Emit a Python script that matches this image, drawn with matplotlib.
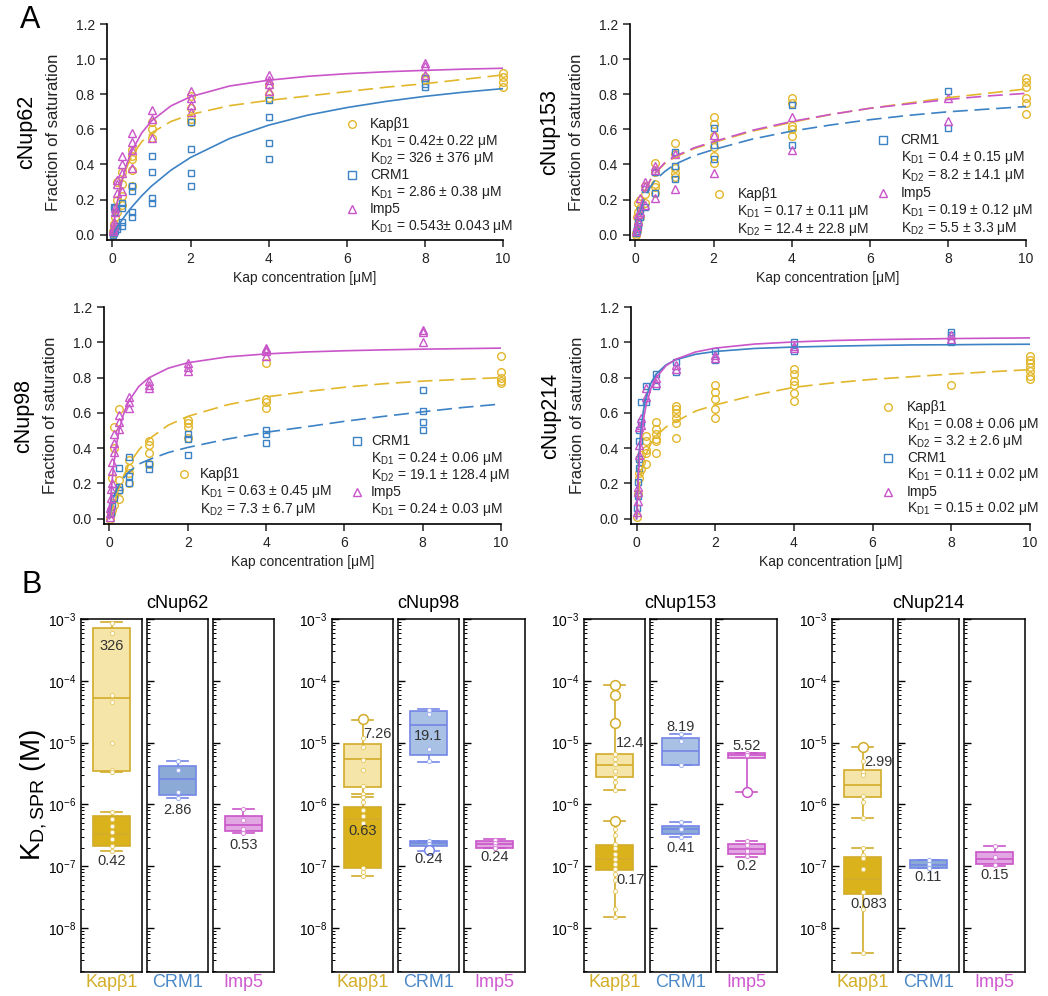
import numpy as np
import matplotlib
matplotlib.use('Agg')
import matplotlib.pyplot as plt
from matplotlib.ticker import LogLocator, NullFormatter, FixedLocator

plt.rcParams['font.family'] = ['Liberation Sans', 'DejaVu Sans']
plt.rcParams['mathtext.fontset'] = 'custom'
plt.rcParams['mathtext.rm'] = 'Liberation Sans'
plt.rcParams['mathtext.it'] = 'Liberation Sans:italic'
plt.rcParams['mathtext.bf'] = 'Liberation Sans:bold'

GOLD = '#E2B72C'
BLUE = '#3C82C4'
MAG = '#C955C9'
kap_names = ['Kapβ1', 'CRM1', 'Imp5']
kap_colors = [GOLD, BLUE, MAG]
kap_markers = ['o', 's', '^']

# ---------------- panel A: titration data {conc (uM): [fraction of saturation]}
nup62_kap = {0.01: [0.02, 0.01], 0.03: [0.06, 0.04], 0.06: [0.15, 0.10], 0.125: [0.30, 0.20, 0.13],
             0.25: [0.36, 0.29, 0.22, 0.17], 0.5: [0.48, 0.45, 0.43, 0.37, 0.28], 1: [0.64, 0.60, 0.55],
             2: [0.79, 0.72, 0.66, 0.64], 4: [0.85, 0.80, 0.78], 8: [0.90, 0.88], 10: [0.92, 0.90, 0.87, 0.84]}
nup62_crm = {0.01: [0.0, 0.01], 0.03: [0.16, 0.01], 0.06: [0.15, 0.13, 0.02], 0.125: [0.03, 0.05],
             0.25: [0.18, 0.15, 0.07, 0.05], 0.5: [0.28, 0.25, 0.13, 0.10], 1: [0.45, 0.36, 0.21, 0.18],
             2: [0.64, 0.49, 0.35, 0.28], 4: [0.77, 0.67, 0.52, 0.43], 8: [0.89, 0.86, 0.84]}
nup62_imp = {0.01: [0.03, 0.02], 0.03: [0.07, 0.05], 0.06: [0.15, 0.13], 0.125: [0.31, 0.29, 0.24],
             0.25: [0.45, 0.40, 0.35, 0.25], 0.5: [0.58, 0.53, 0.48, 0.38], 1: [0.71, 0.66, 0.55],
             2: [0.82, 0.78, 0.74, 0.70], 4: [0.91, 0.88, 0.86, 0.82], 8: [0.98, 0.96, 0.91]}

nup153_kap = {0.01: [0.01, 0.0], 0.03: [0.10, 0.02], 0.06: [0.18, 0.13, 0.06], 0.125: [0.20, 0.15, 0.10],
              0.25: [0.28, 0.23, 0.18], 0.5: [0.41, 0.36, 0.29, 0.27, 0.24], 1: [0.52, 0.46, 0.38, 0.35, 0.33],
              2: [0.67, 0.63, 0.56, 0.50, 0.45, 0.41], 4: [0.78, 0.75, 0.62, 0.60, 0.56],
              10: [0.89, 0.87, 0.84, 0.78, 0.75, 0.69]}
nup153_crm = {0.01: [0.01], 0.03: [0.03, 0.02], 0.06: [0.07, 0.05], 0.125: [0.14, 0.10], 0.25: [0.26, 0.16],
              0.5: [0.36, 0.24], 1: [0.47, 0.39, 0.32], 2: [0.61, 0.51, 0.43], 4: [0.74, 0.51], 8: [0.82, 0.61]}
nup153_imp = {0.01: [0.02], 0.03: [0.05], 0.06: [0.12, 0.08], 0.125: [0.21, 0.13], 0.25: [0.30, 0.28, 0.17],
              0.5: [0.39, 0.37, 0.21], 1: [0.46, 0.26], 2: [0.57, 0.35], 4: [0.67, 0.48], 8: [0.78, 0.65]}

nup98_kap = {0.01: [0.0], 0.03: [0.03], 0.06: [0.23, 0.05], 0.125: [0.52, 0.40, 0.13, 0.08],
             0.25: [0.62, 0.22, 0.16, 0.11], 0.5: [0.33, 0.29, 0.26, 0.20], 1: [0.44, 0.42, 0.37, 0.31],
             2: [0.56, 0.54, 0.52, 0.46], 4: [0.88, 0.68, 0.66, 0.63], 10: [0.92, 0.83, 0.80, 0.78, 0.77]}
nup98_crm = {0.03: [0.03], 0.06: [0.07], 0.125: [0.16, 0.12], 0.25: [0.29, 0.18, 0.16], 0.5: [0.35, 0.24, 0.20],
             1: [0.31, 0.28], 2: [0.48, 0.45, 0.36], 4: [0.50, 0.48, 0.43], 8: [0.73, 0.61, 0.55, 0.50]}
nup98_imp = {0.01: [0.06, 0.03, 0.01], 0.03: [0.17, 0.12, 0.08], 0.06: [0.32, 0.27, 0.20], 0.125: [0.48, 0.43, 0.38],
             0.25: [0.59, 0.55, 0.51], 0.5: [0.69, 0.66, 0.63], 1: [0.78, 0.76, 0.74], 2: [0.88, 0.86, 0.84],
             4: [0.97, 0.96, 0.95, 0.92], 8: [1.07, 1.06, 1.00]}

nup214_kap = {0.01: [0.01], 0.03: [0.14], 0.06: [0.26, 0.23], 0.125: [0.36, 0.32, 0.28],
              0.25: [0.47, 0.44, 0.39, 0.37, 0.31], 0.5: [0.55, 0.51, 0.48, 0.45, 0.44, 0.37],
              1: [0.64, 0.62, 0.60, 0.57, 0.54, 0.46], 2: [0.76, 0.72, 0.68, 0.62, 0.57],
              4: [0.85, 0.82, 0.78, 0.76, 0.71, 0.67], 8: [0.76], 10: [0.92, 0.90, 0.88, 0.86, 0.84, 0.81, 0.79]}
nup214_crm = {0.01: [0.06], 0.03: [0.21, 0.13], 0.06: [0.50, 0.44, 0.34, 0.29], 0.125: [0.66, 0.55],
              0.25: [0.75, 0.66], 0.5: [0.82, 0.75], 1: [0.89, 0.83], 2: [0.95, 0.90], 4: [1.00, 0.95],
              8: [1.06, 1.04, 1.00]}
nup214_imp = {0.01: [0.04], 0.03: [0.18, 0.15, 0.10], 0.06: [0.52, 0.42, 0.36], 0.125: [0.57, 0.53],
              0.25: [0.74, 0.69], 0.5: [0.80, 0.77], 1: [0.87, 0.85], 2: [0.93, 0.91], 4: [0.98, 0.97],
              8: [1.04, 1.02]}

# fitted curves at these concentrations
fit_x = [0, 0.05, 0.1, 0.175, 0.25, 0.375, 0.5, 0.75, 1, 1.5, 2, 3, 4, 5, 6, 7, 8, 9, 10]
nup62_fits = [
    [0, 0.09, 0.16, 0.25, 0.31, 0.39, 0.45, 0.53, 0.58, 0.645, 0.685, 0.735, 0.765, 0.79, 0.815, 0.84, 0.86, 0.885, 0.91],
    [0, 0.018, 0.036, 0.062, 0.086, 0.124, 0.159, 0.222, 0.277, 0.368, 0.44, 0.548, 0.624, 0.681, 0.724, 0.759, 0.788, 0.812, 0.832],
    [0, 0.084, 0.156, 0.244, 0.315, 0.408, 0.479, 0.58, 0.648, 0.734, 0.786, 0.847, 0.88, 0.902, 0.917, 0.928, 0.936, 0.943, 0.948]]
nup153_fits = [
    [0, 0.08, 0.14, 0.2, 0.25, 0.31, 0.35, 0.405, 0.44, 0.49, 0.525, 0.59, 0.64, 0.685, 0.72, 0.75, 0.78, 0.805, 0.83],
    [0, 0.07, 0.12, 0.18, 0.22, 0.27, 0.31, 0.36, 0.4, 0.45, 0.485, 0.545, 0.59, 0.625, 0.655, 0.68, 0.70, 0.715, 0.73],
    [0, 0.08, 0.14, 0.2, 0.25, 0.31, 0.35, 0.41, 0.445, 0.495, 0.53, 0.595, 0.645, 0.685, 0.72, 0.745, 0.77, 0.79, 0.805]]
nup98_fits = [
    [0, 0.04, 0.08, 0.13, 0.18, 0.25, 0.31, 0.39, 0.45, 0.53, 0.58, 0.645, 0.69, 0.72, 0.745, 0.765, 0.78, 0.79, 0.80],
    [0, 0.07, 0.115, 0.16, 0.195, 0.235, 0.266, 0.31, 0.334, 0.375, 0.404, 0.451, 0.49, 0.52, 0.552, 0.58, 0.606, 0.63, 0.65],
    [0, 0.171, 0.291, 0.417, 0.505, 0.604, 0.669, 0.75, 0.798, 0.853, 0.884, 0.917, 0.934, 0.945, 0.952, 0.957, 0.961, 0.964, 0.967]]
nup214_fits = [
    [0, 0.15, 0.24, 0.32, 0.37, 0.43, 0.47, 0.52, 0.55, 0.61, 0.645, 0.70, 0.745, 0.77, 0.79, 0.805, 0.82, 0.833, 0.845],
    [0, 0.313, 0.476, 0.614, 0.694, 0.773, 0.82, 0.872, 0.901, 0.932, 0.948, 0.965, 0.973, 0.978, 0.982, 0.985, 0.986, 0.988, 0.989],
    [0, 0.26, 0.416, 0.56, 0.65, 0.743, 0.8, 0.867, 0.904, 0.945, 0.967, 0.99, 1.002, 1.01, 1.015, 1.018, 1.021, 1.023, 1.025]]
# dashed = two-site fit, solid = one-site fit
nup62_dashed = [True, False, False]
nup153_dashed = [True, True, True]
nup98_dashed = [True, True, False]
nup214_dashed = [True, False, False]

nup62_kd = [['K$_{\\rm D1}$ = 0.42± 0.22 μM', 'K$_{\\rm D2}$ = 326 ± 376 μM'],
            ['K$_{\\rm D1}$ = 2.86 ± 0.38 μM'],
            ['K$_{\\rm D1}$ = 0.543± 0.043 μM']]
nup153_kd = [['K$_{\\rm D1}$ = 0.17 ± 0.11 μM', 'K$_{\\rm D2}$ = 12.4 ± 22.8 μM'],
             ['K$_{\\rm D1}$ = 0.4 ± 0.15 μM', 'K$_{\\rm D2}$ = 8.2 ± 14.1 μM'],
             ['K$_{\\rm D1}$ = 0.19 ± 0.12 μM', 'K$_{\\rm D2}$ = 5.5 ± 3.3 μM']]
nup98_kd = [['K$_{\\rm D1}$ = 0.63 ± 0.45 μM', 'K$_{\\rm D2}$ = 7.3 ± 6.7 μM'],
            ['K$_{\\rm D1}$ = 0.24 ± 0.06 μM', 'K$_{\\rm D2}$ = 19.1 ± 128.4 μM'],
            ['K$_{\\rm D1}$ = 0.24 ± 0.03 μM']]
nup214_kd = [['K$_{\\rm D1}$ = 0.08 ± 0.06 μM', 'K$_{\\rm D2}$ = 3.2 ± 2.6 μM'],
             ['K$_{\\rm D1}$ = 0.11 ± 0.02 μM'],
             ['K$_{\\rm D1}$ = 0.15 ± 0.02 μM']]

# ---------------- panel B: K_D (M) box summaries [whislo, q1, med, q3, whishi], order Kapb1, CRM1, Imp5
nup62_kd1 = [[1.8e-7, 2.1e-7, 3.3e-7, 6.5e-7, 7.5e-7], [1.25e-6, 1.4e-6, 2.6e-6, 4.2e-6, 5e-6],
             [3.4e-7, 3.7e-7, 4.7e-7, 6.6e-7, 8.6e-7]]
nup62_kd2 = [[3.3e-6, 3.5e-6, 5.3e-5, 7.2e-4, 9e-4], None, None]
nup98_kd1 = [[7e-8, 9.5e-8, 5.9e-7, 9.1e-7, 1.3e-6], [1.8e-7, 2.1e-7, 2.35e-7, 2.6e-7, 2.6e-7],
             [1.95e-7, 2.0e-7, 2.3e-7, 2.6e-7, 2.8e-7]]
nup98_kd2 = [[1.5e-6, 1.9e-6, 5.4e-6, 9.5e-6, 2.3e-5], [4.9e-6, 6.3e-6, 1.9e-5, 3.2e-5, 3.5e-5], None]
nup153_kd1 = [[1.5e-8, 8.8e-8, 1.3e-7, 2.2e-7, 5.5e-7], [3e-7, 3.3e-7, 4e-7, 4.5e-7, 5.2e-7],
              [1.4e-7, 1.6e-7, 1.9e-7, 2.3e-7, 2.6e-7]]
nup153_kd2 = [[1.7e-6, 2.8e-6, 4.3e-6, 6.5e-6, 8.5e-5], [4.3e-6, 4.4e-6, 7.3e-6, 1.2e-5, 1.4e-5],
              [1.6e-6, 5.7e-6, 6.3e-6, 6.9e-6, 6.9e-6]]
nup214_kd1 = [[4e-9, 3.6e-8, 6.3e-8, 1.4e-7, 2e-7], [9.3e-8, 9.3e-8, 1.05e-7, 1.26e-7, 1.26e-7],
              [1e-7, 1.1e-7, 1.3e-7, 1.7e-7, 2.1e-7]]
nup214_kd2 = [[6e-7, 1.33e-6, 2.1e-6, 3.6e-6, 8.5e-6], None, None]

# individual fits (small dots) and extreme fits (open circles)
nup62_pts = [[8.5e-4, 6e-4, 6e-5, 4.5e-5, 1e-5, 3.6e-6, 3.3e-6, 7.5e-7, 5.8e-7, 4.5e-7, 3.6e-7, 2.8e-7, 2.1e-7, 1.8e-7],
             [5e-6, 3.6e-6, 1.6e-6, 1.25e-6], [8.6e-7, 5.6e-7, 4e-7, 3.4e-7]]
nup62_big = [[], [], []]
nup98_pts = [[1.2e-5, 8.5e-6, 5.3e-6, 3.6e-6, 2e-6, 1.5e-6, 1.3e-6, 1.1e-6, 8e-7, 6.5e-7, 5e-7, 9.5e-8, 8e-8, 7e-8],
             [3.4e-5, 2.9e-5, 8e-6, 5e-6, 2.6e-7, 2.3e-7], [2.7e-7, 2.4e-7, 2.1e-7, 2e-7]]
nup98_big = [[2.4e-5], [1.85e-7], []]
nup153_pts = [[6.5e-6, 5.5e-6, 4.5e-6, 3.5e-6, 2.8e-6, 2.3e-6, 1.7e-6, 4e-7, 3.2e-7, 2.3e-7, 2e-7, 1.6e-7,
               1.3e-7, 1.1e-7, 9e-8, 7.5e-8, 6e-8, 4e-8, 2e-8, 1.5e-8],
              [1.4e-5, 1.05e-5, 4.4e-6, 5.2e-7, 4e-7, 3e-7], [6.7e-6, 6.3e-6, 2.6e-7, 2.2e-7, 1.8e-7, 1.45e-7]]
nup153_big = [[8.5e-5, 6e-5, 2.1e-5, 5.5e-7], [], [1.6e-6]]
nup214_pts = [[5e-6, 3.3e-6, 3e-6, 1.35e-6, 1.1e-6, 6e-7, 2e-7, 1.5e-7, 1.35e-7, 9e-8, 3.8e-8, 2e-8, 4e-9],
              [1.25e-7, 1.1e-7, 9.5e-8], [2.1e-7, 1.4e-7, 1.05e-7]]
nup214_big = [[8.5e-6], [], []]

# mean K_D labels: (kap index, text, value in M, x within panel)
nup62_labels = [(0, '326', 3.7e-4, 0.5), (0, '0.42', 1.2e-7, 0.5), (1, '2.86', 8.1e-7, 0.5), (2, '0.53', 2.2e-7, 0.5)]
nup98_labels = [(0, '7.26', 1.4e-5, 0.74), (0, '0.63', 3.7e-7, 0.5), (1, '19.1', 1.3e-5, 0.5),
                (1, '0.24', 1.3e-7, 0.5), (2, '0.24', 1.4e-7, 0.5)]
nup153_labels = [(0, '12.4', 1e-5, 0.76), (0, '0.17', 6e-8, 0.76), (1, '8.19', 1.8e-5, 0.5),
                 (1, '0.41', 2e-7, 0.5), (2, '5.52', 8.9e-6, 0.5), (2, '0.2', 1e-7, 0.5)]
nup214_labels = [(0, '2.99', 4.9e-6, 0.76), (0, '0.083', 2.5e-8, 0.6), (1, '0.11', 6.7e-8, 0.5),
                 (2, '0.15', 7.3e-8, 0.5)]
decades = [1e-8, 1e-7, 1e-6, 1e-5, 1e-4, 1e-3]

W, H = 1048, 996
fig = plt.figure(figsize=(W / 100, H / 100), dpi=100)


def px_axes(x0, y0, x1, y1):
    return fig.add_axes([x0 / W, 1 - y1 / H, (x1 - x0) / W, (y1 - y0) / H])


def titration(box, name, series, fits, dashed, kd_text, blocks):
    ax = px_axes(*box)
    width = box[2] - box[0]
    ax.set_xlim(-0.14, 10)
    ax.set_ylim(-0.03, 1.2)
    for s in ['top', 'right']:
        ax.spines[s].set_visible(False)
    for s in ['left', 'bottom']:
        ax.spines[s].set_linewidth(1.2)
    ax.set_xticks([0, 2, 4, 6, 8, 10])
    ax.set_yticks(np.arange(0, 1.21, 0.2))
    ax.yaxis.set_major_formatter(plt.FuncFormatter(lambda v, p: '%.1f' % v))
    ax.tick_params(direction='out', length=5, width=1.1, labelsize=10, colors='#222222')
    for k in range(3):
        xs, ys = [], []
        for c, vals in series[k].items():
            xs += [c] * len(vals)
            ys += vals
        ax.plot(xs, ys, kap_markers[k], ls='none', ms=5.5 if k != 1 else 5, mfc='none',
                mec=kap_colors[k], mew=1.0, clip_on=False)
    for k in range(3):
        if dashed[k]:
            ax.plot(fit_x, fits[k], color=kap_colors[k], lw=1.2, dashes=(9, 4))
        else:
            ax.plot(fit_x, fits[k], color=kap_colors[k], lw=1.2)
    for mx, tx, y0, step, kaps in blocks:
        y = y0
        for k in kaps:
            ax.plot([mx], [y], kap_markers[k], ms=5.5, mfc='none', mec=kap_colors[k], mew=1.0, clip_on=False)
            ax.text(tx, y, kap_names[k], va='center', ha='left', fontsize=10, color='#222222')
            y -= step
            for line in kd_text[k]:
                ax.text(tx, y, line, va='center', ha='left', fontsize=10, color='#222222')
                y -= step
    ax.set_xlabel('Kap concentration [μM]', fontsize=10, labelpad=4, color='#222222')
    ax.set_ylabel('Fraction of saturation', fontsize=12, color='#222222')
    ax.yaxis.set_label_coords(-46 / width, 0.5)
    ax.text(-80 / width, 0.5, name, transform=ax.transAxes, rotation=90, fontsize=15.5,
            ha='center', va='center')
    return ax


titration((107, 24, 503, 240), 'cNup62', [nup62_kap, nup62_crm, nup62_imp], nup62_fits, nup62_dashed,
          nup62_kd, [(6.14, 6.6, 0.63, 0.097, [0, 1, 2])])
titration((630, 24, 1026, 240), 'cNup153', [nup153_kap, nup153_crm, nup153_imp], nup153_fits, nup153_dashed,
          nup153_kd, [(2.14, 2.61, 0.232, 0.1, [0]), (6.33, 6.79, 0.537, 0.1, [1, 2])])
titration((104, 307, 501, 524), 'cNup98', [nup98_kap, nup98_crm, nup98_imp], nup98_fits, nup98_dashed,
          nup98_kd, [(1.91, 2.3, 0.253, 0.099, [0]), (6.31, 6.68, 0.44, 0.097, [1, 2])])
titration((631, 307, 1030, 524), 'cNup214', [nup214_kap, nup214_crm, nup214_imp], nup214_fits, nup214_dashed,
          nup214_kd, [(6.4, 6.87, 0.632, 0.096, [0, 1, 2])])

fig.text(20 / W, 1 - 20 / H, 'A', fontsize=22, ha='left', va='center')
fig.text(22 / W, 1 - 585 / H, 'B', fontsize=22, ha='left', va='center')

# ---------------- panel B
box_face = {(0, 1): '#D9B21C', (0, 2): '#F5E5A8', (1, 1): '#8BAAD6', (1, 2): '#A9C1E4',
            (2, 1): '#E2A6E2', (2, 2): '#EDC6ED'}
box_edge = {0: '#D2AC2A', 1: '#7486E6', 2: '#C955C9'}
dot_edge = {0: '#E8CC6A', 1: '#9FB3F0', 2: '#D98AD9'}
label_col = ['#D4AE28', '#4A88C8', '#CF5ACF']

groups = [('cNup62', nup62_kd1, nup62_kd2, nup62_pts, nup62_big, nup62_labels),
          ('cNup98', nup98_kd1, nup98_kd2, nup98_pts, nup98_big, nup98_labels),
          ('cNup153', nup153_kd1, nup153_kd2, nup153_pts, nup153_big, nup153_labels),
          ('cNup214', nup214_kd1, nup214_kd2, nup214_pts, nup214_big, nup214_labels)]
group_x0 = [81, 332, 584, 832]
panel_w, panel_gap = 61, 5
top, bottom = 619, 972

for gi, (gname, kd1, kd2, pts, big, labels) in enumerate(groups):
    x0 = group_x0[gi]
    for k in range(3):
        left = x0 + k * (panel_w + panel_gap)
        ax = px_axes(left, top, left + panel_w, bottom)
        ax.set_yscale('log')
        ax.set_xlim(0, 1)
        ax.set_ylim(1.95e-9, 1e-3)
        for site, stats in ((2, kd2[k]), (1, kd1[k])):
            if stats is None:
                continue
            st = dict(whislo=stats[0], q1=stats[1], med=stats[2], q3=stats[3], whishi=stats[4], fliers=[])
            ax.bxp([st], positions=[0.5], widths=0.6, patch_artist=True, showfliers=False, capwidths=0.36,
                   manage_ticks=False,
                   boxprops=dict(facecolor=box_face[(k, site)], edgecolor=box_edge[k], lw=1.2),
                   medianprops=dict(color=box_edge[k], lw=1.2),
                   whiskerprops=dict(color=box_edge[k], lw=1.2),
                   capprops=dict(color=box_edge[k], lw=1.2))
        ax.plot([0.5] * len(pts[k]), pts[k], 'o', ms=3, mfc='white', mec=dot_edge[k], mew=0.7, zorder=4)
        if big[k]:
            ax.plot([0.5] * len(big[k]), big[k], 'o', ms=7, mfc='white', mec=box_edge[k], mew=1.1, zorder=4)
        for kk, txt, val, xl in labels:
            if kk == k:
                ax.text(xl, val, txt, ha='center', va='center', fontsize=10.5, color='#333333', zorder=5)
        ax.set_xticks([])
        ax.yaxis.set_major_locator(FixedLocator(decades))
        ax.yaxis.set_minor_locator(LogLocator(base=10, subs=np.arange(2, 10), numticks=20))
        ax.yaxis.set_minor_formatter(NullFormatter())
        ax.tick_params(axis='y', which='major', direction='in', length=5, width=1, labelsize=10)
        ax.tick_params(axis='y', which='minor', direction='in', length=2.5, width=0.7)
        if k > 0:
            ax.tick_params(axis='y', which='both', labelleft=False)
        for s in ax.spines.values():
            s.set_linewidth(1.1)
        if k == 0 and gi == 0:
            ax.set_ylabel('K$_{\\rm D,SPR}$ (M)', fontsize=20)
            ax.yaxis.set_label_coords(-32 / panel_w, 0.5)
        fig.text((left + panel_w / 2) / W, 1 - 982 / H, kap_names[k], color=label_col[k],
                 fontsize=13, ha='center', va='center')
    fig.text((x0 + (3 * panel_w + 2 * panel_gap) / 2) / W, 1 - 603 / H, gname, fontsize=13,
             ha='center', va='center')

fig.savefig('out.png', dpi=100)
